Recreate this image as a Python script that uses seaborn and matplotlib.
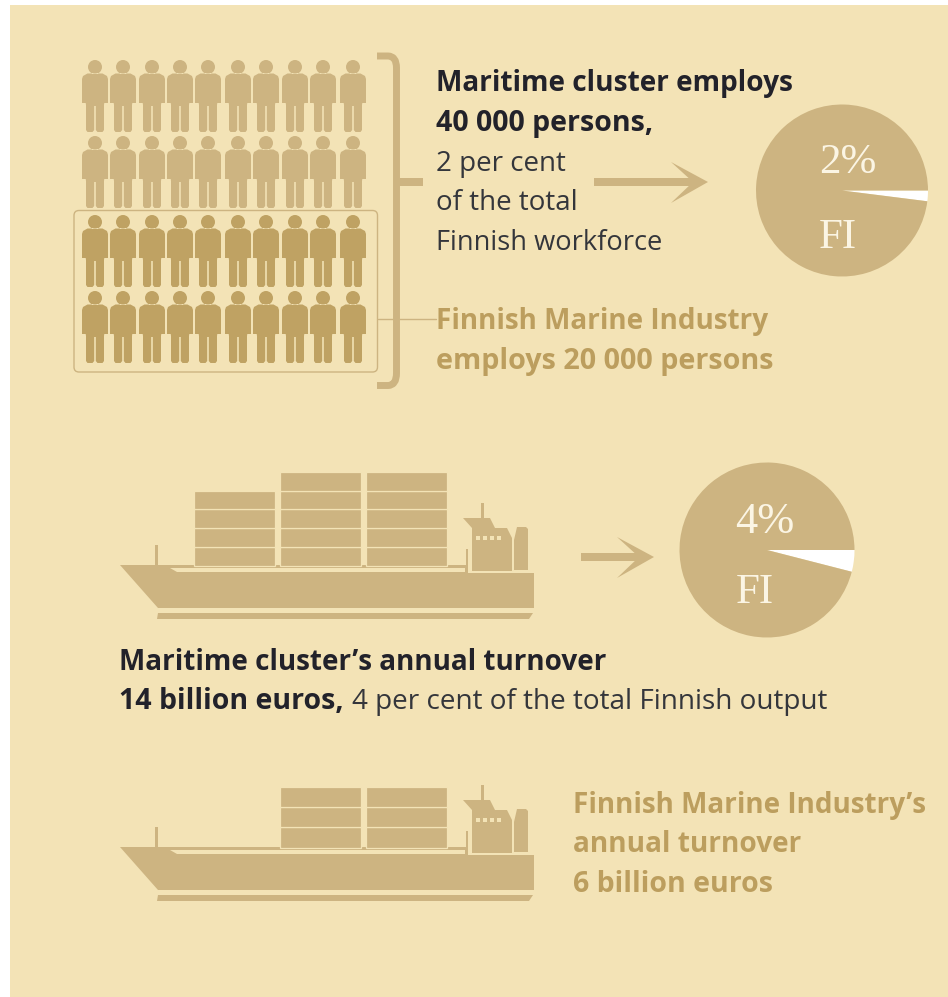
import numpy as np
import pandas as pd
import matplotlib
matplotlib.use("Agg")
import matplotlib.pyplot as plt
import seaborn as sns
from matplotlib.path import Path
from matplotlib.patches import PathPatch, Polygon, Rectangle, FancyBboxPatch

BG = "#F3E3B6"
LIGHT = "#CDB481"
DARK = "#BFA263"
GOLD = "#BC9E5E"
INK = "#22222A"
INK2 = "#34363B"

# data
person_cols = [95, 123, 152, 180, 208, 238, 266, 295, 323, 353]
person_rows = [96, 172, 251, 327]
row_group = ["cluster", "cluster", "marine", "marine"]
stacks_cluster = [4, 5, 5]
stacks_marine = [0, 3, 3]
pie_shares_cluster_jobs = [2, 98]
pie_shares_cluster_turnover = [4, 96]

sns.set_theme(style="white")
plt.rcParams["font.family"] = ["Open Sans", "DejaVu Sans"]

fig = plt.figure(figsize=(9.48, 9.97), dpi=100, facecolor="white")
ax = fig.add_axes([0, 0, 1, 1])
ax.add_patch(Rectangle((10, 5), 938, 992, fc=BG, ec="none", zorder=0))

# person pictogram (y up, centred, height 72)
head = Path.circle((0, 29), 7.0)
body = Path([(-7.5, 22.5), (7.5, 22.5), (12, 20), (13, 17), (13, -7), (9.3, -7), (9, -9),
             (9, -34), (7.5, -36), (2.5, -36), (0.8, -34), (0.8, -10), (-0.8, -10),
             (-0.8, -34), (-2.5, -36), (-7.5, -36), (-9, -34), (-9, -9), (-9.3, -7),
             (-13, -7), (-13, 17), (-12, 20), (-7.5, 22.5)], closed=True)
person = Path.make_compound_path(head, body)

people = pd.DataFrame([(x, y, g) for y, g in zip(person_rows, row_group) for x in person_cols],
                      columns=["x", "y", "group"])
sns.scatterplot(data=people, x="x", y="y", hue="group", palette={"cluster": LIGHT, "marine": DARK},
                marker=person, s=2687, linewidth=0, legend=False, ax=ax, zorder=3)
ax.set_xlim(0, 948)
ax.set_ylim(997, 0)
ax.axis("off")

# marine box, link, bracket
ax.add_patch(FancyBboxPatch((74, 210.5), 303.5, 161.5, boxstyle="round,pad=0,rounding_size=5",
                            fc="none", ec=LIGHT, lw=1.0, zorder=2))
ax.plot([378, 436], [319, 319], color=LIGHT, lw=1.0, zorder=2)
bracket = Path([(377, 56), (388, 56), (396.5, 56), (396.5, 68), (396.5, 373), (396.5, 385.5), (388, 385.5), (377, 385.5)],
               [1, 2, 3, 3, 2, 3, 3, 2])
ax.add_patch(PathPatch(bracket, fc="none", ec=LIGHT, lw=5, capstyle="butt", joinstyle="round", zorder=2))
ax.add_patch(Rectangle((398, 178), 25, 8, fc=LIGHT, ec="none", zorder=2))


def arrow(x0, tip, y):
    ax.add_patch(Rectangle((x0, y - 4), tip - 14 - x0, 8, fc=LIGHT, ec="none", zorder=2))
    ax.add_patch(Polygon([(tip - 37, y - 20), (tip, y), (tip - 37, y + 21), (tip - 15, y)],
                         fc=LIGHT, ec="none", zorder=2))


arrow(594, 708, 182)
arrow(581, 654, 557)


def ship(stacks, dy, tier_h):
    hull = [(120, 565), (466, 565), (466, 549), (468, 549), (468, 573), (534, 573),
            (534, 608), (158, 608)]
    ax.add_patch(Polygon([(x, y + dy) for x, y in hull], fc=LIGHT, ec="none", zorder=2))
    ax.add_patch(Polygon([(x, y + dy) for x, y in [(170, 568), (465, 568), (465, 572), (177, 572)]],
                         fc=BG, ec="none", zorder=2.5))
    ax.add_patch(Polygon([(x, y + dy) for x, y in [(158, 613), (533, 613), (529, 619), (157, 619)]],
                         fc=LIGHT, ec="none", zorder=2))
    ax.add_patch(Rectangle((155, 545 + dy), 3, 20, fc=LIGHT, ec="none", zorder=2))
    house = [(472, 528), (507, 528), (512, 538), (512, 571), (472, 571)]
    funnel = [(517, 527), (526, 527), (528, 529), (528, 570), (514, 570), (514, 540)]
    roof = [(463, 518), (490, 518), (495, 528), (472, 528)]
    for shape in (house, funnel, roof):
        ax.add_patch(Polygon([(x, y + dy) for x, y in shape], fc=LIGHT, ec="none", zorder=2))
    ax.add_patch(Rectangle((481, 503 + dy), 3, 16, fc=LIGHT, ec="none", zorder=2))
    for wx in (476.5, 483.5, 490, 497.5):
        ax.add_patch(Rectangle((wx, 535.5 + dy), 4, 4, fc=BG, ec="none", zorder=3))
    for left, n in zip((195, 281, 367), stacks):
        for i in range(n):
            top = 565.5 + dy - (i + 1) * tier_h
            ax.bar(left + 40, tier_h, width=81, bottom=top, color=LIGHT, edgecolor=BG, linewidth=0.9, zorder=2)


ship(stacks_cluster, 0, 18.75)
ship(stacks_marine, 282, 20.2)
ax.set_xlim(0, 948)
ax.set_ylim(997, 0)


# pies
def pie(cx, cy, r, shares):
    a = fig.add_axes([(cx - r) / 948, 1 - (cy + r) / 997, 2 * r / 948, 2 * r / 997])
    a.pie(shares, colors=["white", LIGHT], startangle=0, counterclock=False, radius=1,
          wedgeprops={"linewidth": 0})
    a.set_xlim(-1, 1)
    a.set_ylim(-1, 1)
    a.patch.set_alpha(0)
    return a


pie(842, 190.5, 86, pie_shares_cluster_jobs)
pie(767, 550, 87.5, pie_shares_cluster_turnover)

serif = dict(family="Liberation Serif", color="#FBF5E4", ha="center", va="baseline", zorder=5)
f2 = fig.add_axes([0, 0, 1, 1], facecolor="none")
f2.set_xlim(0, 948)
f2.set_ylim(997, 0)
f2.axis("off")
f2.text(848, 173, "2%", fontsize=31, **serif)
f2.text(838, 248, "FI", fontsize=31, **serif)
f2.text(765, 533, "4%", fontsize=32, **serif)
f2.text(755, 603, "FI", fontsize=31, **serif)


# text
def t(x, y, s, color=INK2, weight="normal", fs=20.0):
    f2.text(x, y, s, fontsize=fs, color=color, fontweight=weight, va="baseline", ha="left", zorder=5)


t(436, 91, "Maritime cluster employs", INK, "bold", 20.15)
t(436, 131, "40 000 persons,", INK, "bold", 20.5)
t(436, 171, "2 per cent")
t(436, 210, "of the total")
t(436, 250, "Finnish workforce", fs=19.6)
t(436, 329, "Finnish Marine Industry", GOLD, "bold", 20.1)
t(436, 369, "employs 20 000 persons", GOLD, "bold", 20.7)
t(119, 670, "Maritime cluster’s annual turnover", INK, "bold", 20.05)
t(119, 709, "14 billion euros,", INK, "bold", 20.5)
t(352, 709, "4 per cent of the total Finnish output", fs=20.1)
t(573, 813, "Finnish Marine Industry’s", GOLD, "bold", 20.05)
t(573, 852, "annual turnover", GOLD, "bold", 20.2)
t(573, 892, "6 billion euros", GOLD, "bold", 20.5)

fig.savefig("out.png", dpi=100)
